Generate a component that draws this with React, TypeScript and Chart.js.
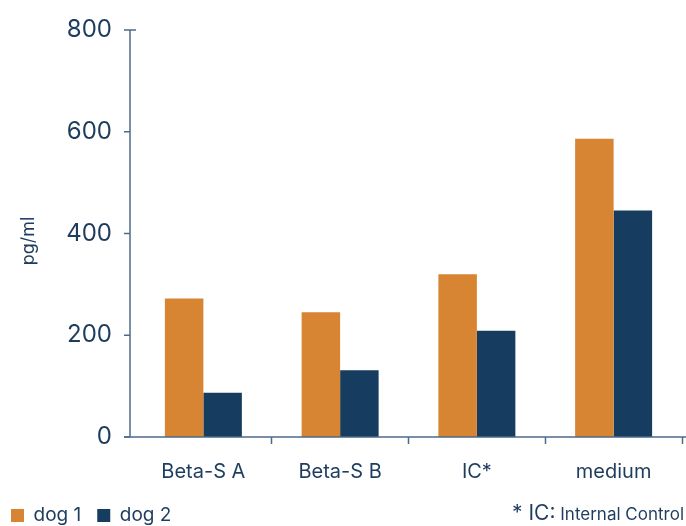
import React, { useEffect, useRef } from "react";
import { Chart, registerables } from "chart.js";

Chart.register(...registerables);

const categories = ["Beta-S A", "Beta-S B", "IC*", "medium"];
const seriesNames = ["dog 1", "dog 2"];
const dog1 = [272, 245, 320, 586];
const dog2 = [87, 131, 209, 445];
const yTicks = [0, 200, 400, 600, 800];
const yTitle = "pg/ml";
const noteMain = "* IC:";
const noteSmall = " Internal Control";

const ORANGE = "#D78532";
const NAVY = "#163C5F";
const AXIS = "#4B6A8A";
const TEXT = "#1E3D5E";
const FONT = "Inter, 'Noto Sans', sans-serif";

const decorPlugin = {
  id: "decor",
  afterDraw(chart: any) {
    const { ctx, chartArea, width } = chart;
    const y = chart.scales.y;
    const axX = chartArea.left - 5;
    const bottom = y.getPixelForValue(0);
    const top = y.getPixelForValue(800);
    ctx.save();
    ctx.strokeStyle = AXIS;
    ctx.lineWidth = 1.5;
    ctx.beginPath();
    ctx.moveTo(axX, top);
    ctx.lineTo(axX, bottom);
    ctx.stroke();
    yTicks.forEach((v) => {
      const py = y.getPixelForValue(v);
      ctx.beginPath();
      ctx.moveTo(axX - 6, py);
      ctx.lineTo(v === 800 ? axX + 6 : axX, py);
      ctx.stroke();
    });
    ctx.beginPath();
    ctx.moveTo(axX - 6, bottom);
    ctx.lineTo(width, bottom);
    ctx.stroke();
    ctx.fillStyle = TEXT;
    ctx.font = "18px " + FONT;
    ctx.textAlign = "center";
    ctx.textBaseline = "middle";
    ctx.translate(29, 241);
    ctx.rotate(-Math.PI / 2);
    ctx.fillText(yTitle, 0, 0);
    ctx.restore();
    ctx.save();
    ctx.fillStyle = TEXT;
    ctx.textBaseline = "alphabetic";
    ctx.textAlign = "right";
    ctx.font = "17px " + FONT;
    const rightX = 684;
    ctx.fillText(noteSmall, rightX, 520);
    const w = ctx.measureText(noteSmall).width;
    ctx.font = "21px " + FONT;
    ctx.fillText(noteMain, rightX - w, 520);
    ctx.restore();
  },
};

export default function App() {
  const ref = useRef<HTMLCanvasElement | null>(null);
  useEffect(() => {
    document.body.style.margin = "0";
    document.body.style.overflow = "hidden";
    const canvas = ref.current!;
    const chart = new Chart(canvas, {
      type: "bar",
      data: {
        labels: categories,
        datasets: [
          { label: seriesNames[0], data: dog1, backgroundColor: ORANGE, borderWidth: 0 },
          { label: seriesNames[1], data: dog2, backgroundColor: NAVY, borderWidth: 0 },
        ],
      },
      options: {
        animation: false,
        responsive: false,
        devicePixelRatio: 1,
        layout: { padding: { left: -5, right: 4, top: 30, bottom: 0 } },
        datasets: { bar: { categoryPercentage: 0.563, barPercentage: 1 } },
        plugins: {
          tooltip: { enabled: false },
          legend: {
            position: "bottom",
            align: "start",
            labels: {
              boxWidth: 13,
              boxHeight: 13,
              padding: 16,
              color: TEXT,
              font: { family: FONT, size: 19 },
            },
          },
        },
        scales: {
          x: {
            border: { display: false },
            grid: {
              display: true,
              drawOnChartArea: false,
              drawTicks: true,
              tickLength: 7,
              tickWidth: 1.5,
              tickColor: (c: any) => (c.index === 0 ? "rgba(0,0,0,0)" : AXIS),
            },
            ticks: { color: TEXT, padding: 16, font: { family: FONT, size: 20 } },
            afterFit: (s: any) => {
              s.height = 53;
            },
          },
          y: {
            min: 0,
            max: 800,
            border: { display: false },
            grid: { display: false, drawTicks: true, tickLength: 23 },
            afterBuildTicks: (s: any) => {
              s.ticks = yTicks.map((v) => ({ value: v }));
            },
            ticks: { color: TEXT, padding: 0, font: { family: FONT, size: 24 } },
            afterFit: (s: any) => {
              s.width = 140;
            },
          },
        },
      },
      plugins: [decorPlugin],
    });
    return () => chart.destroy();
  }, []);
  return <canvas ref={ref} width={686} height={535} style={{ display: "block" }} />;
}
